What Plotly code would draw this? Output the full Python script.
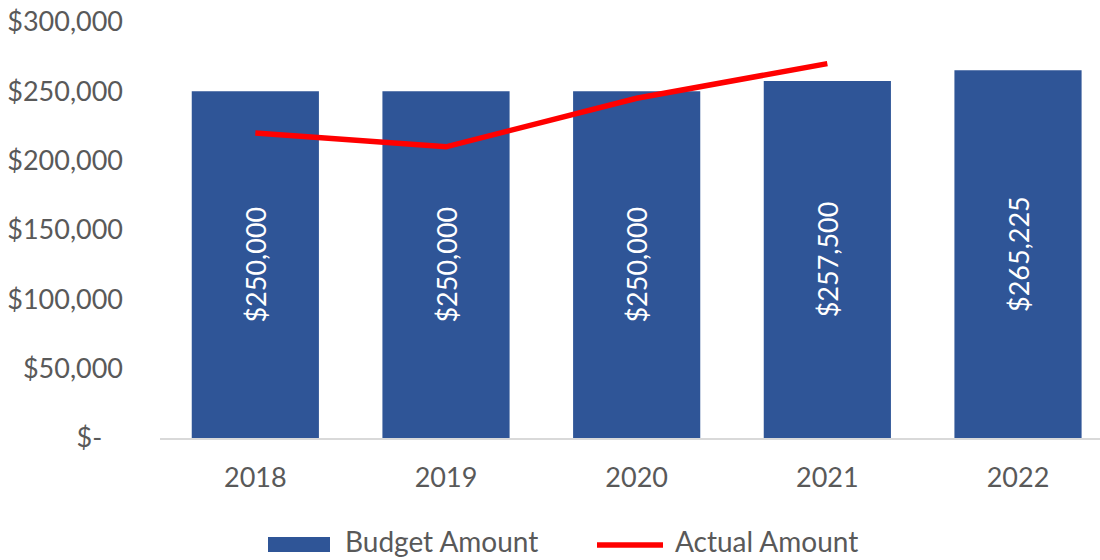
import plotly.graph_objects as go

# Chart data
years = ["2018", "2019", "2020", "2021", "2022"]
budget_amount = [250000, 250000, 250000, 257500, 265225]
actual_amount = [220000, 210000, 245000, 270000, None]
y_tick_values = [0, 50000, 100000, 150000, 200000, 250000, 300000]
y_tick_labels = ["$-\u00a0\u00a0\u00a0", "$50,000", "$100,000", "$150,000",
                 "$200,000", "$250,000", "$300,000"]

W, H = 1100, 560
L, R, T, B = 160, 0, 22, 122
FONT = "Lato"
GREY = "#595959"
BLUE = "#2F5597"
RED = "#FF0000"


def px_x(px):
    return (px - L) / (W - L - R)


def px_y(py):
    return (H - B - py) / (H - T - B)


fig = go.Figure()
fig.add_trace(go.Bar(
    x=years, y=budget_amount, name="Budget Amount",
    marker=dict(color=BLUE, line=dict(width=0)),
    width=0.667,
    text=[f"${v:,.0f}" for v in budget_amount],
    textposition="inside", insidetextanchor="middle", textangle=-90,
    textfont=dict(family=FONT, size=27, color="white"),
    showlegend=False, hoverinfo="x+y",
))
fig.add_trace(go.Scatter(
    x=years, y=actual_amount, name="Actual Amount", mode="lines",
    line=dict(color=RED, width=5.5), showlegend=False,
))

# Legend drawn below the plot
shapes = [
    dict(type="rect", xref="paper", yref="paper",
         x0=px_x(268), x1=px_x(330), y0=px_y(552), y1=px_y(537),
         fillcolor=BLUE, line=dict(width=0)),
    dict(type="line", xref="paper", yref="paper",
         x0=px_x(597), x1=px_x(663), y0=px_y(545), y1=px_y(545),
         line=dict(color=RED, width=5.5)),
]
annotations = [
    dict(text="Budget Amount", xref="paper", yref="paper", x=px_x(343), y=px_y(541),
         xanchor="left", yanchor="middle", showarrow=False,
         font=dict(family=FONT, size=28, color=GREY)),
    dict(text="Actual Amount", xref="paper", yref="paper", x=px_x(673), y=px_y(541),
         xanchor="left", yanchor="middle", showarrow=False,
         font=dict(family=FONT, size=28, color=GREY)),
]

fig.update_layout(
    width=W, height=H, autosize=False,
    margin=dict(l=L, r=R, t=T, b=B, pad=0),
    paper_bgcolor="white", plot_bgcolor="white",
    bargap=0.333, shapes=shapes, annotations=annotations,
    font=dict(family=FONT, size=27, color=GREY),
)
fig.update_xaxes(
    type="category", range=[-0.5, 4.43],
    showline=True, linecolor="#D9D9D9", linewidth=2,
    showgrid=False, ticks="", ticklabelstandoff=15,
    tickfont=dict(family=FONT, size=27, color=GREY),
)
fig.update_yaxes(
    range=[0, 300000], tickvals=y_tick_values, ticktext=y_tick_labels,
    showgrid=False, zeroline=False, showline=False, ticks="",
    ticklabelstandoff=36,
    tickfont=dict(family=FONT, size=27, color=GREY),
)

fig.write_html("out.html")
